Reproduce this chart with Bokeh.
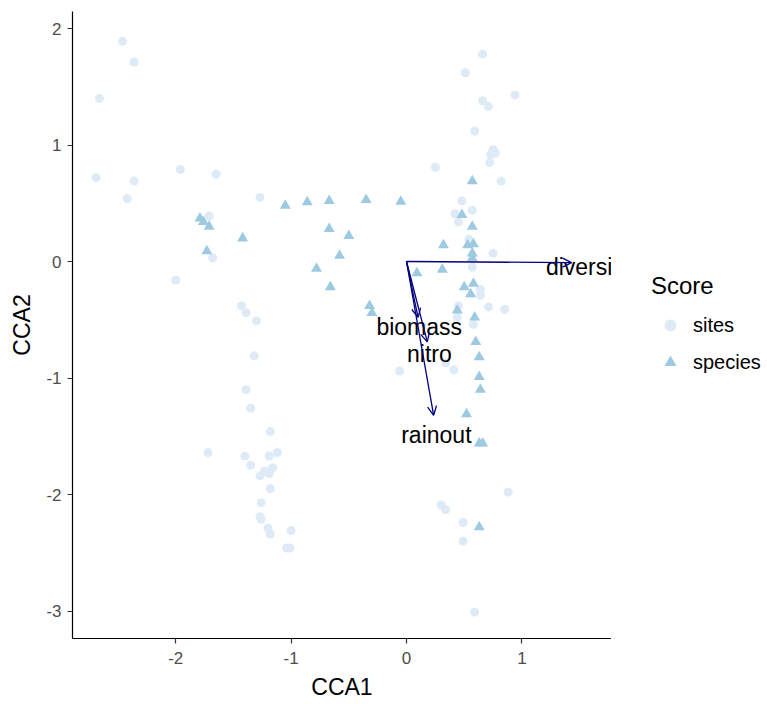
from bokeh.plotting import figure
from bokeh.layouts import row
from bokeh.models import ColumnDataSource, Arrow, OpenHead, Legend, LegendItem, FixedTicker, Range1d
from bokeh.core.properties import value
from bokeh.embed import file_html
from bokeh.resources import INLINE

# ---- data ----
site_cca1 = [-2.46, -2.36, -2.66, -1.96, -1.65, -2.69, -2.36, -2.42, -1.27, -1.71,
             -1.68, -2.00, -1.43, -1.39, -1.30, -1.32, -1.39, -1.35, -1.18, -1.72,
             -1.40, -1.19, -1.12, -1.35, -1.16, -1.27, -1.23, -1.19, -1.18, -1.26,
             -1.27, -1.26, -1.20, -1.18, -1.00, -1.04, -1.01,
             0.66, 0.51, 0.94, 0.66, 0.71, 0.59, 0.75, 0.73, 0.77, 0.72,
             0.25, 0.82, 0.48, 0.42, 0.45, 0.57, 0.54, 0.75, 0.57, 0.64,
             0.64, 0.45, 0.71, 0.85, 0.44, 0.58, 0.34, 0.41, -0.06, 0.88,
             0.30, 0.34, 0.49, 0.49, 0.59]
site_cca2 = [1.89, 1.71, 1.40, 0.79, 0.75, 0.72, 0.69, 0.54, 0.55, 0.39,
             0.03, -0.16, -0.38, -0.44, -0.51, -0.81, -1.10, -1.26, -1.46, -1.64,
             -1.67, -1.67, -1.64, -1.75, -1.77, -1.84, -1.80, -1.82, -1.95, -2.07,
             -2.19, -2.21, -2.29, -2.34, -2.31, -2.46, -2.46,
             1.78, 1.62, 1.43, 1.38, 1.33, 1.12, 0.96, 0.92, 0.93, 0.85,
             0.81, 0.69, 0.52, 0.41, 0.34, 0.44, 0.19, 0.07, -0.05, -0.24,
             -0.29, -0.38, -0.39, -0.41, -0.48, -0.54, -0.87, -0.93, -0.94, -1.98,
             -2.09, -2.13, -2.24, -2.40, -3.01]

species_cca1 = [-1.05, -0.86, -0.67, -0.35, -0.05, -1.79, -1.76, -1.71, -1.42, -0.67,
                -1.73, -0.50, -0.58, -0.78, -0.66, 0.09, 0.57, 0.48, 0.57, 0.32,
                0.53, 0.58, 0.57, 0.57, 0.31, 0.50, 0.58, 0.555, -0.32, -0.30,
                0.44, 0.59, 0.60, 0.63, 0.63, 0.64, 0.52, 0.63, 0.66, 0.63]
species_cca2 = [0.48, 0.51, 0.52, 0.53, 0.515, 0.37, 0.34, 0.30, 0.20, 0.28,
                0.09, 0.22, 0.05, -0.06, -0.22, -0.10, 0.69, 0.40, 0.30, 0.14,
                0.14, 0.15, 0.07, 0.03, -0.07, -0.22, -0.19, -0.28, -0.38, -0.44,
                -0.42, -0.48, -0.69, -0.82, -0.99, -1.10, -1.31, -1.56, -1.56, -2.28]

env_names = ["biomass", "nitro", "rainout", "diversity"]
env_cca1 = [0.10, 0.18, 0.235, 1.43]
env_cca2 = [-0.48, -0.69, -1.32, -0.01]
label_mult = 1.1

x_ticks = [-2, -1, 0, 1]
y_ticks = [-3, -2, -1, 0, 1, 2]
legend_labels = ["sites", "species"]
legend_title = "Score"

SITE_COLOR = "#DEEBF7"
SPECIES_COLOR = "#9ECAE1"
FONT = "Liberation Sans"

p = figure(width=611, height=704, x_range=(-2.894, 1.776), y_range=(-3.236, 2.146),
           output_backend="svg", toolbar_location=None,
           min_border_left=72, min_border_right=0, min_border_top=11, min_border_bottom=66,
           x_axis_label="CCA1", y_axis_label="CCA2")
p.grid.visible = False
p.outline_line_color = None
p.background_fill_color = "white"
p.border_fill_color = "white"

for ax, ticks in ((p.xaxis, x_ticks), (p.yaxis, y_ticks)):
    ax.ticker = FixedTicker(ticks=ticks)
    ax.major_label_overrides = {t: str(t) for t in ticks}
    ax.axis_line_color = "black"
    ax.axis_line_width = 1.2
    ax.major_tick_line_color = "#333333"
    ax.major_tick_line_width = 1.2
    ax.major_tick_out = 5
    ax.major_tick_in = 0
    ax.minor_tick_line_color = None
    ax.major_label_text_color = "#4D4D4D"
    ax.major_label_text_font = FONT
    ax.major_label_text_font_size = "17px"
    ax.axis_label_text_font = FONT
    ax.axis_label_text_font_size = "23px"
    ax.axis_label_text_font_style = "normal"
    ax.axis_label_text_color = "black"
p.xaxis.major_label_standoff = 8
p.xaxis.axis_label_standoff = 7
p.yaxis.major_label_standoff = 6
p.yaxis.axis_label_standoff = 8

src_sites = ColumnDataSource(dict(x=site_cca1, y=site_cca2))
src_species = ColumnDataSource(dict(x=species_cca1, y=species_cca2))
p.scatter("x", "y", source=src_sites, marker="circle", size=9,
          fill_color=SITE_COLOR, line_color=None)
p.scatter("x", "y", source=src_species, marker="triangle", size=11,
          fill_color=SPECIES_COLOR, line_color=None)

src_env = ColumnDataSource(dict(
    x0=[0] * len(env_names), y0=[0] * len(env_names),
    x1=env_cca1, y1=env_cca2,
    lx=[v * label_mult for v in env_cca1], ly=[v * label_mult for v in env_cca2],
    name=env_names))
p.add_layout(Arrow(end=OpenHead(size=9, line_color="#000080", line_width=1.3),
                   x_start="x0", y_start="y0", x_end="x1", y_end="y1",
                   source=src_env, line_color="#000080", line_width=1.3))
p.text(x="lx", y="ly", text="name", source=src_env, text_align="center",
       text_baseline="middle", text_font=value(FONT), text_font_size="23px",
       text_color="black", y_offset=4)

# ---- legend panel (separate narrow figure so nothing gets clipped) ----
lf = figure(width=156, height=704, x_range=Range1d(0, 1), y_range=Range1d(0, 1),
            output_backend="svg", toolbar_location=None,
            min_border_left=0, min_border_right=0, min_border_top=11, min_border_bottom=66,
            x_axis_location=None, y_axis_location=None)
lf.grid.visible = False
lf.outline_line_color = None
lf.background_fill_color = "white"
lf.border_fill_color = "white"
# key glyphs only (their single point lies far outside the visible range)
lr_sites = lf.scatter(x=[-1000], y=[-1000], marker="circle", size=9,
                      fill_color=SITE_COLOR, line_color=None)
lr_species = lf.scatter(x=[-1000], y=[-1000], marker="triangle", size=11,
                        fill_color=SPECIES_COLOR, line_color=None)

legend = Legend(items=[LegendItem(label=legend_labels[0], renderers=[lr_sites]),
                       LegendItem(label=legend_labels[1], renderers=[lr_species])],
                title=legend_title, location=(40, 261))
legend.title_text_font = FONT
legend.title_text_font_size = "24px"
legend.title_text_font_style = "normal"
legend.title_text_color = "black"
legend.label_text_font = FONT
legend.label_text_font_size = "20px"
legend.label_text_color = "black"
legend.background_fill_alpha = 0
legend.border_line_color = None
legend.padding = 0
legend.margin = 0
legend.spacing = 7
legend.glyph_width = 38
legend.glyph_height = 30
legend.label_height = 30
legend.label_standoff = 4
legend.title_standoff = 10
lf.add_layout(legend, "center")

layout = row(p, lf, spacing=0)
open("out.html", "w").write(file_html(layout, INLINE))
